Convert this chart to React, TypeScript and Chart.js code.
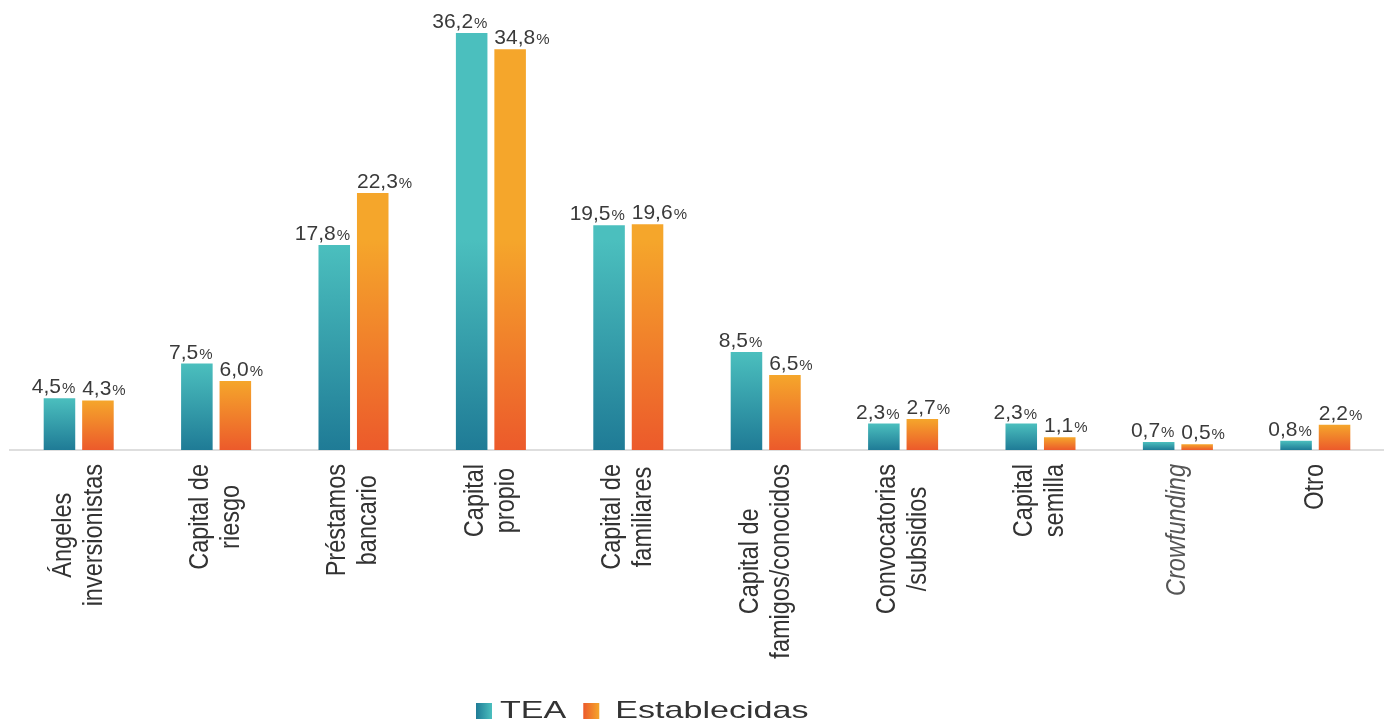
import React, { useEffect, useRef } from 'react';
import { Chart, registerables } from 'chart.js';

Chart.register(...registerables);

const categories: string[][] = [
  ['Ángeles', 'inversionistas'],
  ['Capital de', 'riesgo'],
  ['Préstamos', 'bancario'],
  ['Capital', 'propio'],
  ['Capital de', 'familiares'],
  ['Capital de', 'famigos/conocidos'],
  ['Convocatorias', '/subsidios'],
  ['Capital', 'semilla'],
  ['Crowfunding'],
  ['Otro'],
];
const teaValues = [4.5, 7.5, 17.8, 36.2, 19.5, 8.5, 2.3, 2.3, 0.7, 0.8];
const establecidasValues = [4.3, 6.0, 22.3, 34.8, 19.6, 6.5, 2.7, 1.1, 0.5, 2.2];
const seriesNames = ['TEA', 'Establecidas'];
const italicLabels = ['Crowfunding'];

const FONT = '"Liberation Sans", Arial, Helvetica, sans-serif';
const palette = [
  { dark: '#1f7b96', light: '#4bbfbe' },
  { dark: '#ec5a2b', light: '#f5a62b' },
];

function barFill(di: number) {
  return (c: any) => {
    const chart = c.chart;
    const y = chart.scales && chart.scales.y;
    if (!y || c.type !== 'data' || !chart.chartArea) return palette[di].light;
    const v = c.raw as number;
    const base = y.getPixelForValue(0);
    const top = y.getPixelForValue(v);
    const span = Math.max(1, Math.min(base - top, 210));
    const g = chart.ctx.createLinearGradient(0, base, 0, base - span);
    g.addColorStop(0, palette[di].dark);
    g.addColorStop(1, palette[di].light);
    return g;
  };
}

const valueLabelPlugin = {
  id: 'valueLabels',
  afterDatasetsDraw(chart: any) {
    const ctx = chart.ctx;
    chart.data.datasets.forEach((ds: any, di: number) => {
      const meta = chart.getDatasetMeta(di);
      meta.data.forEach((el: any, i: number) => {
        const v = ds.data[i] as number;
        const num = v.toFixed(1).replace('.', ',');
        const { x, y, width } = el.getProps(['x', 'y', 'width'], true);
        ctx.save();
        ctx.fillStyle = '#3a3a3a';
        ctx.textBaseline = 'alphabetic';
        ctx.textAlign = 'left';
        ctx.font = `21px ${FONT}`;
        const w1 = ctx.measureText(num).width;
        ctx.font = `15px ${FONT}`;
        const w2 = ctx.measureText('%').width;
        const total = w1 + 1 + w2;
        const left = di === 0 ? x + width / 2 - total : x - width / 2;
        const base = y - 5;
        ctx.font = `21px ${FONT}`;
        ctx.fillText(num, left, base);
        ctx.font = `15px ${FONT}`;
        ctx.fillText('%', left + w1 + 1, base);
        ctx.restore();
      });
    });
  },
};

const xLabelPlugin = {
  id: 'xLabels',
  afterDraw(chart: any) {
    const xs = chart.scales.x;
    const ctx = chart.ctx;
    const top = chart.chartArea.bottom + 14;
    const thick = 1.15;
    categories.forEach((lines, i) => {
      const cx = xs.getPixelForTick(i);
      const italic = italicLabels.includes(lines.join(' '));
      ctx.save();
      ctx.font = `${italic ? 'italic ' : ''}23.5px ${FONT}`;
      ctx.fillStyle = italic ? '#555555' : '#333333';
      const W = Math.max(...lines.map((l) => ctx.measureText(l).width));
      ctx.translate(cx, top + W / 2);
      ctx.rotate(-Math.PI / 2);
      ctx.scale(1, thick);
      ctx.textAlign = 'center';
      ctx.textBaseline = 'middle';
      const lh = 31 / thick;
      lines.forEach((l, k) => ctx.fillText(l, 0, (k - (lines.length - 1) / 2) * lh));
      ctx.restore();
    });
  },
};

const legendPlugin = {
  id: 'customLegend',
  afterDraw(chart: any) {
    const ctx = chart.ctx;
    const stretch = 1.42;
    let x = 476;
    const boxTop = 703;
    const baseline = 718;
    seriesNames.forEach((name, di) => {
      ctx.save();
      const g = ctx.createLinearGradient(x, 0, x + 16, 0);
      g.addColorStop(0, palette[di].dark);
      g.addColorStop(1, palette[di].light);
      ctx.fillStyle = g;
      ctx.fillRect(x, boxTop, 16, 16);
      x += 16 + (di === 0 ? 8 : 16);
      ctx.font = `24px ${FONT}`;
      ctx.fillStyle = '#333333';
      ctx.textBaseline = 'alphabetic';
      ctx.textAlign = 'left';
      const w = ctx.measureText(name).width * stretch;
      ctx.translate(x, baseline);
      ctx.scale(stretch, 1);
      ctx.fillText(name, 0, 0);
      ctx.restore();
      x += w + 17;
    });
  },
};

export default function App() {
  const ref = useRef<HTMLCanvasElement | null>(null);
  useEffect(() => {
    document.body.style.margin = '0';
    if (!ref.current) return;
    const maxVal = Math.max(...teaValues, ...establecidasValues);
    const chart = new Chart(ref.current, {
      type: 'bar',
      data: {
        labels: categories.map((c) => c.join(' ')),
        datasets: [
          {
            label: seriesNames[0],
            data: teaValues,
            backgroundColor: barFill(0) as any,
            borderWidth: 0,
            categoryPercentage: 0.56,
            barPercentage: 0.82,
          },
          {
            label: seriesNames[1],
            data: establecidasValues,
            backgroundColor: barFill(1) as any,
            borderWidth: 0,
            categoryPercentage: 0.56,
            barPercentage: 0.82,
          },
        ],
      },
      options: {
        animation: false,
        responsive: true,
        maintainAspectRatio: false,
        layout: { padding: { top: 33, left: 10, right: 0, bottom: 0 } },
        plugins: {
          legend: { display: false },
          tooltip: { enabled: false },
        },
        scales: {
          y: { display: false, min: 0, max: maxVal },
          x: {
            display: true,
            grid: { display: false },
            border: { display: true, color: '#dedede', width: 2 },
            ticks: { display: false },
            afterFit: (s: any) => {
              s.height = 277;
            },
          },
        },
      },
      plugins: [valueLabelPlugin, xLabelPlugin, legendPlugin],
    });
    return () => chart.destroy();
  }, []);
  return (
    <div style={{ position: 'absolute', left: 0, top: 0, width: 1384, height: 727, background: '#ffffff' }}>
      <canvas ref={ref} />
    </div>
  );
}
